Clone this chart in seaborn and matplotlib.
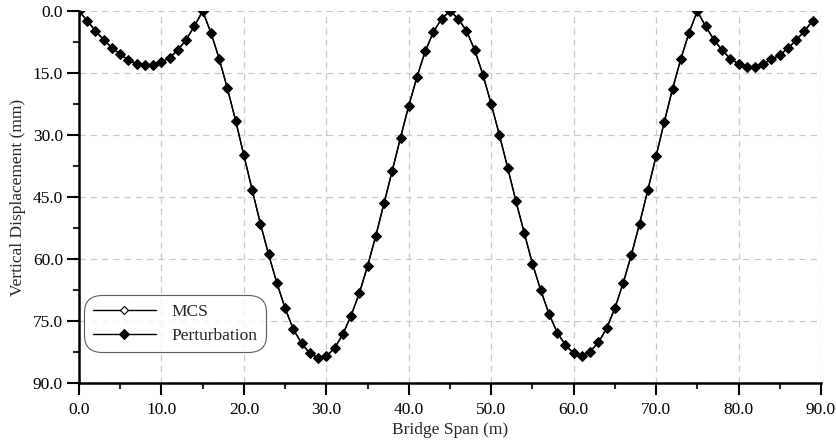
import matplotlib
matplotlib.use("Agg")
import matplotlib.pyplot as plt
import seaborn as sns
import numpy as np

# bridge span positions (m), one point per metre
span = list(range(0, 90))

# perturbation result (mm)
perturbation = [
    0.0, 2.3, 4.8, 6.9, 8.9, 10.4, 11.9, 12.7, 13.1, 13.1, 12.3, 11.3, 9.4, 6.9, 3.6,
    0.0, 5.2, 11.5, 18.7, 26.5, 34.9, 43.2, 51.4, 58.9, 65.8, 71.9, 77.0, 80.4, 82.8, 83.9,
    83.5, 81.6, 78.2, 73.7, 68.3, 61.7, 54.4, 46.5, 38.6, 30.6, 22.9, 15.9, 9.7, 5.0, 1.8,
    0.0, 1.8, 4.8, 9.4, 15.4, 22.5, 30.0, 37.9, 46.0, 53.6, 61.1, 67.5, 73.2, 77.8, 80.8,
    82.8, 83.5, 82.4, 80.2, 76.8, 71.9, 65.9, 59.0, 51.4, 43.3, 35.1, 26.8, 18.8, 11.6, 5.2,
    0.0, 3.6, 6.9, 9.4, 11.5, 12.7, 13.5, 13.5, 12.7, 11.7, 10.6, 9.0, 7.0, 4.8, 2.3,
]
# MCS result sits right under the perturbation curve
mcs = list(perturbation)

x_ticks = np.arange(0, 91, 10)
y_ticks = np.arange(0, 91, 15)

sns.set_style("ticks")
plt.rcParams['font.family'] = ['Liberation Serif', 'DejaVu Serif']

fig = plt.figure(figsize=(8.36, 4.46), dpi=100)
ax = fig.add_axes([0.0945, 0.1413, 0.8875, 0.8337])

sns.lineplot(x=span, y=mcs, ax=ax, color='black', lw=1.0, marker='D',
             markersize=4, markerfacecolor='white', markeredgecolor='black',
             markeredgewidth=0.8, label='MCS')
sns.lineplot(x=span, y=perturbation, ax=ax, color='black', lw=1.0, marker='D',
             markersize=5, markerfacecolor='black', markeredgecolor='black',
             label='Perturbation')

ax.set_xlim(0, 90)
ax.set_ylim(90, 0)
ax.set_xticks(x_ticks)
ax.set_yticks(y_ticks)
ax.set_xticks(np.arange(5, 90, 10), minor=True)
ax.set_yticks(np.arange(7.5, 90, 15), minor=True)
ax.set_xticklabels([f"{v:.1f}" for v in x_ticks])
ax.set_yticklabels([f"{v:.1f}" for v in y_ticks])
ax.tick_params(which='major', direction='out', length=8.5, width=1.5,
               labelsize=12.5, colors='black', pad=3)
ax.tick_params(which='minor', direction='out', length=4.5, width=1.5)
ax.tick_params(axis='x', which='major', pad=5)
ax.grid(True, which='major', color='#c8c8c8', linestyle=(0, (5, 4)), lw=0.9)

sns.despine(ax=ax)
for s in ['left', 'bottom']:
    ax.spines[s].set_linewidth(1.8)
    ax.spines[s].set_color('black')

ax.set_xlabel("Bridge Span (m)", fontsize=12.5, labelpad=3)
ax.set_ylabel("Vertical Displacement (mm)", fontsize=12.5, labelpad=5)

leg = ax.legend(loc='lower left', bbox_to_anchor=(0.006, 0.08), fontsize=12.5,
                frameon=True, fancybox=True, handlelength=3.6, handletextpad=0.9,
                borderpad=0.35, labelspacing=0.45, borderaxespad=0.2)
frame = leg.get_frame()
frame.set_edgecolor('#333333')
frame.set_linewidth(0.8)
frame.set_boxstyle('round,pad=0.15,rounding_size=1.0')

fig.savefig("out.png", dpi=100)
